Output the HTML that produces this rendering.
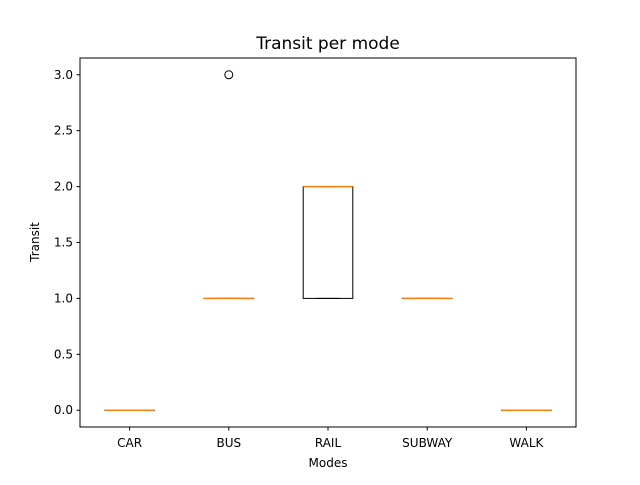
<!DOCTYPE html>
<html><head><meta charset="utf-8"><style>
body{margin:0;background:#fff}
svg text{font-family:"DejaVu Sans","Liberation Sans",sans-serif;fill:#000}
</style></head><body>
<svg id="c" width="640" height="480" xmlns="http://www.w3.org/2000/svg">
<rect x="0" y="0" width="640" height="480" fill="#fff"/>
<text x="328" y="49" font-size="17" text-anchor="middle">Transit per mode</text>
<text x="328" y="467" font-size="12" text-anchor="middle">Modes</text>
<text x="0" y="0" font-size="12" text-anchor="middle" transform="translate(39,242) rotate(-90)">Transit</text>
<g id="plot"></g>
<rect x="80" y="58" width="496" height="369" fill="none" stroke="#000" stroke-width="1"/>
</svg>
<script>
const categories=["CAR","BUS","RAIL","SUBWAY","WALK"];
const q1=[0,1,1,1,0];
const med=[0,1,2,1,0];
const q3=[0,1,2,1,0];
const whiskLo=[0,1,1,1,0];
const whiskHi=[0,1,2,1,0];
const fliers=[[],[3],[],[],[]];
const yTicks=[0,0.5,1,1.5,2,2.5,3];
const yTickLabels=["0.0","0.5","1.0","1.5","2.0","2.5","3.0"];
const L=80,R=576,T=58,B=427,ymin=-0.15,ymax=3.15,xmin=0.5,xmax=5.5;
const X=v=>L+(v-xmin)/(xmax-xmin)*(R-L);
const Y=v=>B-(v-ymin)/(ymax-ymin)*(B-T);
const g=document.getElementById('plot');
const NS="http://www.w3.org/2000/svg";
function mk(t,a){const e=document.createElementNS(NS,t);for(const k in a)e.setAttribute(k,a[k]);g.appendChild(e);return e;}
yTicks.forEach((v,i)=>{
 const t=mk('line',{x1:L-3.5,x2:L,y1:Y(v),y2:Y(v),stroke:'#000'});
 
 
 const l=mk('text',{x:L-7,y:Y(v)+4,'font-size':12,'text-anchor':'end'});l.textContent=yTickLabels[i];
 
 
});
categories.forEach((c,i)=>{
 const x=X(i+1),hw=(X(1.25)-X(1)),cw=hw/2;
 const t=mk('line',{x1:x,x2:x,y1:B,y2:B+3.5,stroke:'#000'});
 
 
 const l=mk('text',{x:x,y:B+20,'font-size':12,'text-anchor':'middle'});l.textContent=c;
 
 
 const bx=mk('rect',{x:x-hw,y:Y(q3[i]),width:2*hw,height:Math.max(0.01,Y(q1[i])-Y(q3[i])),fill:'none',stroke:'#000'});
 
 
 mk('line',{x1:x,x2:x,y1:Y(q1[i]),y2:Y(whiskLo[i]),stroke:'#000'});
 mk('line',{x1:x,x2:x,y1:Y(q3[i]),y2:Y(whiskHi[i]),stroke:'#000'});
 mk('line',{x1:x-cw,x2:x+cw,y1:Y(whiskLo[i]),y2:Y(whiskLo[i]),stroke:'#000'});
 mk('line',{x1:x-cw,x2:x+cw,y1:Y(whiskHi[i]),y2:Y(whiskHi[i]),stroke:'#000'});
 const m=mk('line',{x1:x-hw,x2:x+hw,y1:Y(med[i]),y2:Y(med[i]),stroke:'#ff7f0e','stroke-width':1.5});
 
 
 fliers[i].forEach(v=>{
  const f=mk('circle',{cx:x,cy:Y(v),r:4,fill:'none',stroke:'#000'});
  
  
 });
});
</script>
</body></html>
